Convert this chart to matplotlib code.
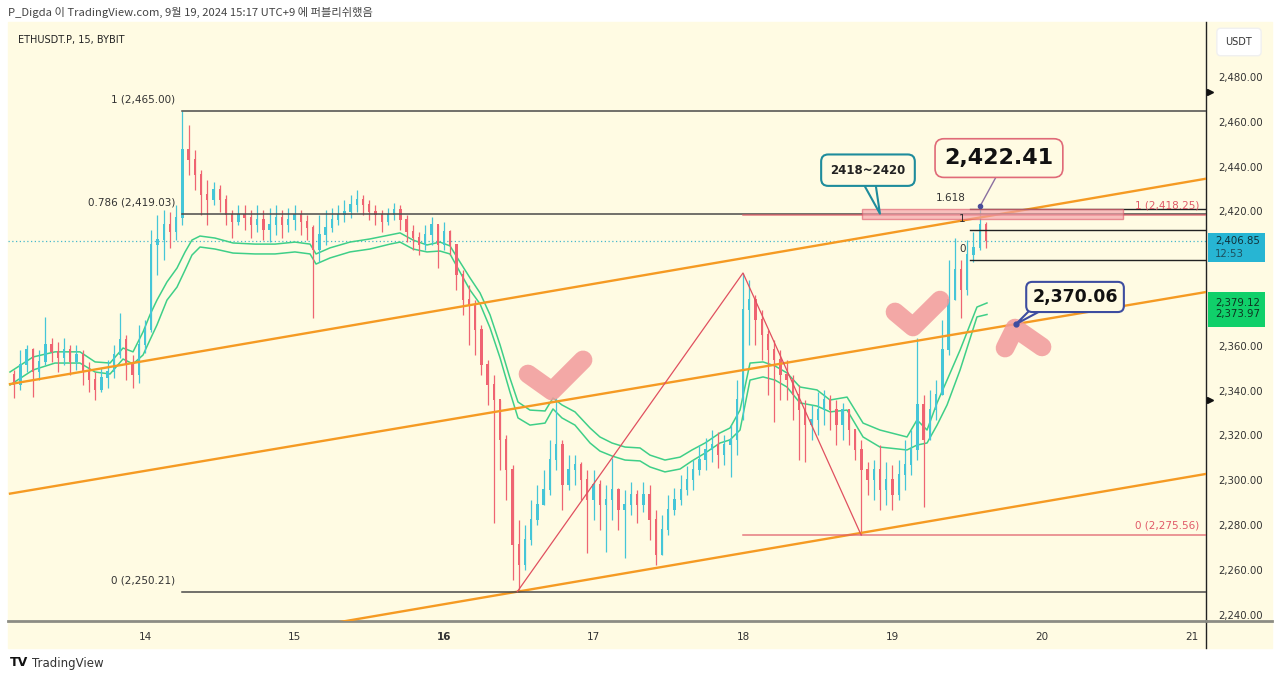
import numpy as np
import matplotlib.pyplot as plt
from matplotlib.patches import Rectangle
from matplotlib.lines import Line2D
import matplotlib.transforms as mtransforms

# ---- price data (hourly candles), first candle 13 Sep 03:00
t0 = 13.125
open0 = 2347.0
closes = [2342.5, 2351.4, 2358.1, 2348.3, 2352.8, 2360.4, 2357.3, 2354.6, 2358.1, 2352.8,
          2355.9, 2348.3, 2344.7, 2340.3, 2345.6, 2348.3, 2355.9, 2362.6, 2351.4, 2346.9,
          2360.4, 2367.1, 2405.0, 2407.2, 2413.9, 2410.8, 2417.1, 2447.4, 2442.9, 2436.3,
          2427.3, 2425.1, 2429.6, 2425.1, 2418.4, 2415.3, 2418.4, 2417.1, 2413.9, 2416.2,
          2411.7, 2413.9, 2417.1, 2413.9, 2416.2, 2418.4, 2415.3, 2412.6, 2402.8, 2409.5,
          2412.6, 2416.2, 2418.4, 2419.7, 2422.9, 2425.1, 2422.9, 2419.7, 2418.4, 2415.3,
          2418.4, 2420.6, 2416.2, 2410.8, 2408.1, 2405.0, 2409.5, 2413.9, 2405.0, 2410.8,
          2405.0, 2391.6, 2380.4, 2378.2, 2367.1, 2351.4, 2342.5, 2335.8, 2317.9, 2304.5,
          2271.1, 2262.1, 2273.3, 2282.2, 2288.9, 2295.6, 2309.0, 2315.7, 2297.9, 2304.5,
          2306.8, 2300.1, 2291.2, 2297.9, 2288.9, 2291.2, 2295.6, 2286.7, 2288.9, 2293.4,
          2288.9, 2293.4, 2282.2, 2266.6, 2277.8, 2286.7, 2291.2, 2295.6, 2300.1, 2304.5,
          2309.0, 2313.5, 2315.7, 2311.2, 2315.7, 2317.9, 2335.8, 2376.0, 2380.4, 2371.5,
          2364.8, 2358.1, 2353.7, 2346.9, 2344.7, 2338.0, 2331.3, 2324.6, 2326.9, 2331.3,
          2335.8, 2331.3, 2324.6, 2331.3, 2322.4, 2313.5, 2304.5, 2300.1, 2304.5, 2295.6,
          2300.1, 2293.4, 2302.3, 2306.8, 2313.5, 2333.6, 2317.9, 2331.3, 2338.0, 2358.1,
          2380.4, 2393.8, 2384.9, 2400.5, 2403.7, 2413.9, 2406.85]
highs = [2349.2, 2358.1, 2360.4, 2359.0, 2358.1, 2372.9, 2363.5, 2361.7, 2363.5, 2360.4,
         2360.4, 2358.1, 2352.8, 2348.3, 2350.1, 2353.7, 2360.4, 2374.6, 2364.8, 2355.9,
         2369.3, 2371.5, 2411.7, 2418.4, 2420.6, 2419.7, 2422.9, 2465.0, 2458.6, 2447.4,
         2438.5, 2434.0, 2433.1, 2431.8, 2427.3, 2420.6, 2422.9, 2422.9, 2420.6, 2422.9,
         2420.6, 2421.5, 2422.9, 2420.6, 2421.5, 2422.9, 2420.6, 2418.4, 2413.9, 2418.4,
         2420.6, 2421.5, 2422.9, 2425.1, 2427.3, 2429.6, 2427.3, 2425.1, 2422.9, 2420.6,
         2421.5, 2423.8, 2422.9, 2418.4, 2413.9, 2410.8, 2413.9, 2417.5, 2413.9, 2415.3,
         2411.7, 2405.0, 2393.8, 2387.1, 2380.4, 2369.3, 2353.7, 2346.9, 2329.1, 2320.2,
         2306.8, 2282.2, 2280.0, 2291.2, 2297.9, 2304.5, 2317.9, 2336.7, 2317.9, 2311.2,
         2311.2, 2308.1, 2304.5, 2304.5, 2300.1, 2297.9, 2309.9, 2296.5, 2295.6, 2299.2,
         2295.6, 2299.2, 2297.9, 2286.7, 2284.5, 2293.4, 2296.5, 2302.3, 2306.3, 2309.0,
         2315.7, 2318.8, 2322.4, 2321.5, 2320.2, 2324.6, 2344.7, 2392.5, 2389.4, 2382.7,
         2376.0, 2367.1, 2362.6, 2358.1, 2353.7, 2346.9, 2342.5, 2335.8, 2333.6, 2339.4,
         2340.3, 2338.0, 2335.8, 2334.5, 2331.3, 2322.4, 2317.9, 2308.1, 2309.0, 2315.7,
         2308.1, 2306.8, 2309.0, 2317.9, 2322.4, 2363.5, 2338.0, 2340.3, 2344.7, 2371.5,
         2398.3, 2408.1, 2398.3, 2407.2, 2410.8, 2422.41, 2415.3]
lows = [2336.7, 2340.3, 2348.3, 2337.1, 2344.7, 2351.4, 2352.8, 2348.3, 2351.4, 2346.9,
        2349.2, 2342.5, 2339.4, 2335.8, 2339.4, 2341.2, 2345.6, 2354.6, 2344.7, 2341.2,
        2343.4, 2357.0, 2366.2, 2391.6, 2398.3, 2403.7, 2407.2, 2413.9, 2436.3, 2429.6,
        2418.4, 2413.9, 2422.9, 2419.7, 2413.9, 2408.1, 2413.9, 2411.7, 2408.1, 2410.8,
        2407.2, 2406.3, 2409.5, 2408.1, 2410.8, 2411.7, 2409.5, 2407.2, 2372.4, 2397.4,
        2405.0, 2410.8, 2413.9, 2415.3, 2417.1, 2419.7, 2418.4, 2416.2, 2413.9, 2410.8,
        2413.9, 2416.2, 2411.7, 2406.3, 2402.8, 2400.5, 2402.8, 2405.0, 2394.7, 2402.8,
        2400.5, 2384.9, 2373.8, 2360.4, 2355.9, 2346.9, 2333.6, 2280.9, 2304.5, 2291.2,
        2255.4, 2250.21, 2259.9, 2271.1, 2280.0, 2288.9, 2293.4, 2304.5, 2286.7, 2295.6,
        2297.9, 2291.2, 2267.5, 2282.2, 2277.8, 2268.0, 2282.2, 2277.8, 2265.3, 2284.5,
        2280.9, 2285.8, 2273.3, 2262.1, 2266.6, 2275.6, 2284.5, 2288.9, 2293.4, 2295.6,
        2302.3, 2304.5, 2308.1, 2305.4, 2306.8, 2301.4, 2311.2, 2326.9, 2360.4, 2360.4,
        2353.7, 2338.0, 2326.0, 2335.8, 2335.8, 2326.9, 2309.0, 2308.1, 2317.9, 2320.2,
        2324.6, 2322.4, 2315.7, 2317.9, 2315.7, 2309.0, 2275.56, 2293.4, 2291.2, 2286.7,
        2288.9, 2286.7, 2291.2, 2295.6, 2302.3, 2309.0, 2288.0, 2317.9, 2326.9, 2338.0,
        2355.9, 2380.4, 2372.4, 2382.7, 2397.4, 2402.8, 2403.7]
last_price = 2406.85
countdown = '12:53'

# green envelope (upper / lower) read at key points
band_days = [13.097, 13.251, 13.398, 13.565, 13.666, 13.766, 13.853, 13.920, 13.987, 14.033,
             14.080, 14.147, 14.214, 14.268, 14.314, 14.368, 14.468, 14.589, 14.736, 14.870,
             15.003, 15.104, 15.144, 15.237, 15.371, 15.505, 15.639, 15.706, 15.793, 15.886,
             15.973, 16.040, 16.107, 16.174, 16.241, 16.308, 16.375, 16.441, 16.495, 16.575,
             16.676, 16.729, 16.789, 16.876, 16.977, 17.043, 17.124, 17.211, 17.311, 17.378,
             17.478, 17.579, 17.659, 17.746, 17.846, 17.913, 17.980, 18.047, 18.134, 18.214,
             18.294, 18.381, 18.495, 18.582, 18.696, 18.803, 18.916, 19.097, 19.164, 19.231,
             19.298, 19.365, 19.452, 19.565, 19.632]
band_upper = [2348.3, 2355.0, 2357.3, 2357.3, 2352.8, 2352.3, 2359.0, 2357.3, 2366.2, 2373.8,
              2380.4, 2388.5, 2394.7, 2401.9, 2407.2, 2409.0, 2408.1, 2405.9, 2405.4, 2405.4,
              2406.3, 2405.4, 2401.0, 2403.7, 2406.3, 2407.7, 2409.5, 2410.4, 2407.2, 2405.0,
              2406.3, 2404.6, 2397.4, 2390.3, 2383.6, 2373.8, 2360.4, 2345.6, 2334.9, 2331.3,
              2330.9, 2336.7, 2333.6, 2330.5, 2323.3, 2319.3, 2316.6, 2314.8, 2314.4, 2311.2,
              2309.0, 2310.3, 2313.5, 2316.6, 2321.1, 2323.3, 2331.3, 2352.3, 2352.8, 2351.0,
              2347.9, 2341.6, 2340.3, 2335.8, 2337.1, 2325.5, 2322.4, 2319.3, 2326.9, 2322.4,
              2334.5, 2344.7, 2358.1, 2377.3, 2379.12]
band_lower = [2342.5, 2349.2, 2352.3, 2352.3, 2348.3, 2347.4, 2354.1, 2351.9, 2355.9, 2362.6,
              2369.3, 2380.4, 2386.2, 2393.8, 2400.5, 2404.1, 2403.2, 2401.4, 2401.0, 2401.0,
              2401.9, 2401.0, 2396.5, 2399.2, 2401.9, 2403.2, 2405.4, 2406.3, 2403.2, 2401.9,
              2402.3, 2401.0, 2392.9, 2384.9, 2378.7, 2368.0, 2354.6, 2339.4, 2327.8, 2324.6,
              2325.5, 2331.8, 2327.8, 2324.6, 2316.6, 2313.0, 2310.8, 2309.0, 2308.6, 2305.9,
              2303.7, 2305.0, 2308.6, 2312.1, 2316.6, 2318.0, 2322.4, 2344.7, 2346.1, 2344.7,
              2341.6, 2334.5, 2333.1, 2330.5, 2331.3, 2319.3, 2314.8, 2313.5, 2315.7, 2316.6,
              2324.6, 2333.6, 2349.2, 2372.9, 2373.97]

# ---- drawings
fib_main_labels = ['1 (2,465.00)', '0.786 (2,419.03)', '0 (2,250.21)']
fib_main_prices = [2465.00, 2419.03, 2250.21]
fib_main_start = 14.25
fib_red_labels = ['1 (2,418.25)', '0 (2,275.56)']
fib_red_prices = [2418.25, 2275.56]
fib_red_start = 18.0
fib_small_labels = ['1.618', '1', '0']
fib_small_prices = [2421.0, 2411.7, 2398.3]
fib_small_start = 19.52

channel_days = [13.097, 21.097]
channel_top = [2342.9, 2434.6]
channel_mid = [2294.0, 2384.0]
channel_bot = [2211.5, 2302.8]

zig_days = [16.49, 18.0, 18.79]
zig_prices = [2250.21, 2392.5, 2275.56]

zone_days = [18.796, 20.542]
zone_prices = [2416.4, 2421.0]

check1_days = [16.562, 16.722, 16.930]
check1_prices = [2347.4, 2339.8, 2353.7]
check2_days = [19.017, 19.137, 19.318]
check2_prices = [2375.1, 2368.4, 2380.4]
caret_days = [19.753, 19.819, 20.000]
caret_prices = [2359.0, 2367.9, 2359.5]

day_ticks = [14, 15, 16, 17, 18, 19, 20, 21]
price_ticks = [2480, 2460, 2440, 2420, 2360, 2340, 2320, 2300, 2280, 2260, 2240]

CREAM = '#FFFBE3'
UP = '#45C6D8'
DOWN = '#EF6472'
ORANGE = '#F59A23'
GREEN = '#3FCF88'
FIBGREY = '#4A4A4A'
FIBRED = '#E05A68'

W, H = 1280, 681
fig = plt.figure(figsize=(W / 100, H / 100), dpi=100)
fig.patch.set_facecolor('white')


def fx(x):
    return x / W


def fy(y):
    return 1 - y / H


fig.add_artist(Rectangle((fx(8), fy(648)), (1272 - 8) / W, (648 - 22) / H,
                         transform=fig.transFigure, color=CREAM, zorder=0))

ax = fig.add_axes([fx(8), fy(621), 1198 / W, 599 / H])
ax.set_facecolor(CREAM)
ax.set_xlim(13.0836, 21.097)
ax.set_ylim(2237.14, 2504.55)

# candles
c = np.array(closes)
o = np.concatenate([[open0], c[:-1]])
hi = np.maximum(np.array(highs), np.maximum(o, c))
lo = np.minimum(np.array(lows), np.minimum(o, c))
t = t0 + np.arange(len(c)) / 24
col = np.where(c >= o, UP, DOWN)
ax.vlines(t, lo, hi, colors=col, lw=0.9, zorder=3)
ax.bar(t, np.abs(c - o) + 0.3, bottom=np.minimum(o, c), width=0.38 / 24,
       color=col, linewidth=0, zorder=3)

# envelope
ax.plot(band_days, band_upper, color=GREEN, lw=1.1, zorder=2.5)
ax.plot(band_days, band_lower, color=GREEN, lw=1.1, zorder=2.5)

# last price dotted line
ax.axhline(last_price, color='#47B8CC', lw=0.9, ls=(0, (1, 2)), zorder=2)

# channel
for prices in (channel_top, channel_mid, channel_bot):
    ax.plot(channel_days, prices, color=ORANGE, lw=1.7, zorder=4)

# fib retracements
for lab, p in zip(fib_main_labels, fib_main_prices):
    ax.plot([fib_main_start, 21.2], [p, p], color=FIBGREY, lw=1.1, zorder=4)
    ax.text(fib_main_start - 0.05, p + 5.0, lab, ha='right', va='center',
            fontsize=7.5, color='#333333', zorder=5)
for lab, p in zip(fib_red_labels, fib_red_prices):
    ax.plot([fib_red_start, 21.2], [p, p], color=FIBRED, lw=1.1, alpha=0.8, zorder=4)
    ax.text(21.05, p + 4.2, lab, ha='right', va='center', fontsize=7.5,
            color=FIBRED, zorder=5)
for lab, p in zip(fib_small_labels, fib_small_prices):
    ax.plot([fib_small_start, 21.2], [p, p], color='#222222', lw=1.0, zorder=4)
    ax.text(fib_small_start - 0.03, p + 5.0, lab, ha='right', va='center',
            fontsize=7.5, color='#333333', zorder=5)

# zigzag
ax.plot(zig_days, zig_prices, color='#E0505F', lw=0.9, zorder=4)

# resistance zone
ax.add_patch(Rectangle((zone_days[0], zone_prices[0]), zone_days[1] - zone_days[0],
                       zone_prices[1] - zone_prices[0], facecolor='#F3A0A8', alpha=0.65,
                       edgecolor='#E06070', lw=1.0, zorder=4.5))

# pink hand-drawn marks
for dd, pp in ((check1_days, check1_prices), (check2_days, check2_prices),
               (caret_days, caret_prices)):
    ax.plot(dd, pp, color='#F29A9C', lw=13.5, alpha=0.85, solid_capstyle='round',
            solid_joinstyle='round', zorder=6)

# callouts
ax.plot([18.80, 18.916, 18.885], [2433.0, 2419.0, 2433.0], color='#1E8C9C', lw=1.5, zorder=7)
ax.text(18.836, 2438.4, '2418~2420', ha='center', va='center', fontsize=8.5,
        fontweight='bold', color='#222222', zorder=8,
        bbox=dict(boxstyle='round,pad=0.78,rounding_size=0.6', fc=CREAM, ec='#1E8C9C', lw=1.5))

ax.plot([19.706, 19.585], [2437.0, 2422.2], color='#8A6FA0', lw=1.0, zorder=7)
ax.plot([19.585], [2422.2], 'o', ms=3, color='#4A4E9A', zorder=7)
ax.text(19.712, 2443.8, '2,422.41', ha='center', va='center', fontsize=16,
        fontweight='bold', color='#111111', zorder=8,
        bbox=dict(boxstyle='round,pad=0.42,rounding_size=0.4', fc=CREAM, ec='#E06A78', lw=1.2))

ax.plot([19.935, 19.826, 20.03], [2377.0, 2369.7, 2377.0], color='#3D4DA0', lw=1.5, zorder=7)
ax.plot([19.826], [2369.7], 'o', ms=3.5, color='#3D4DA0', zorder=7)
ax.text(20.221, 2381.8, '2,370.06', ha='center', va='center', fontsize=12.5,
        fontweight='bold', color='#111111', zorder=8,
        bbox=dict(boxstyle='round,pad=0.35,rounding_size=0.35', fc=CREAM, ec='#3D4DA0', lw=1.5))

# axes styling
ax.yaxis.tick_right()
ax.set_yticks(price_ticks)
ax.set_yticklabels([f'{p:,.2f}' for p in price_ticks])
ax.tick_params(axis='y', length=0, pad=9, labelsize=7.3, labelcolor='#333333')
ax.set_xticks(day_ticks)
ax.set_xticklabels([str(d) for d in day_ticks])
ax.tick_params(axis='x', length=0, pad=8, labelsize=7.5, labelcolor='#333333')
ax.get_xticklabels()[2].set_fontweight('bold')
for s in ('top', 'left'):
    ax.spines[s].set_visible(False)
ax.spines['right'].set_color('#222222')
ax.spines['right'].set_linewidth(1.0)
ax.spines['bottom'].set_color('#8C8C84')
ax.spines['bottom'].set_linewidth(2.0)
fig.add_artist(Line2D([fx(1206), fx(1206)], [fy(621), fy(648)], color='#222222', lw=1.0))
fig.add_artist(Line2D([fx(1206), fx(1272)], [fy(621), fy(621)], color='#8C8C84', lw=2.0))

# right-axis price labels
trans = mtransforms.blended_transform_factory(ax.transAxes, ax.transData)
ax.add_patch(Rectangle((1.0017, 2397.4), 0.0476, 13.0, transform=trans, clip_on=False,
                       facecolor='#27B5D3', edgecolor='none', zorder=9))
ax.text(1.0075, 2406.6, f'{last_price:,.2f}', transform=trans, ha='left', va='center',
        fontsize=7.3, color='#10303A', clip_on=False, zorder=10)
ax.text(1.0075, 2400.9, countdown, transform=trans, ha='left', va='center',
        fontsize=7.3, color='#1D4F5E', clip_on=False, zorder=10)
ax.add_patch(Rectangle((1.0017, 2368.3), 0.0476, 15.7, transform=trans, clip_on=False,
                       facecolor='#10D06A', edgecolor='none', zorder=9))
ax.text(1.0075, band_upper[-1], f'{band_upper[-1]:,.2f}', transform=trans, ha='left',
        va='center', fontsize=7.3, color='#0E3320', clip_on=False, zorder=10)
ax.text(1.0075, band_lower[-1], f'{band_lower[-1]:,.2f}', transform=trans, ha='left',
        va='center', fontsize=7.3, color='#0E3320', clip_on=False, zorder=10)
ax.plot([1.003, 1.003], [2473.3, 2335.8], '>', ms=5, color='#111111', transform=trans,
        clip_on=False, zorder=10)

# header / footer
fig.text(fx(8), fy(12), 'P_Digda 이 TradingView.com, 9월 19, 2024 15:17 UTC+9 에 퍼블리쉬했음',
         ha='left', va='center', fontsize=8.1, color='#444444',
         family=['Noto Sans CJK KR', 'DejaVu Sans'])
fig.text(fx(18), fy(40), 'ETHUSDT.P, 15, BYBIT', ha='left', va='center', fontsize=7,
         color='#222222')
fig.text(fx(1239), fy(42), 'USDT', ha='center', va='center', fontsize=7, color='#333333',
         bbox=dict(boxstyle='round,pad=0.9,rounding_size=0.4', fc='white', ec='#F0F0F0'))
fig.text(fx(10), fy(663), 'TV', ha='left', va='center', fontsize=9, fontweight='heavy',
         color='#111111')
fig.text(fx(32), fy(663), 'TradingView', ha='left', va='center', fontsize=8.5,
         color='#333333')

fig.savefig('out.png', dpi=100, facecolor=fig.get_facecolor())
